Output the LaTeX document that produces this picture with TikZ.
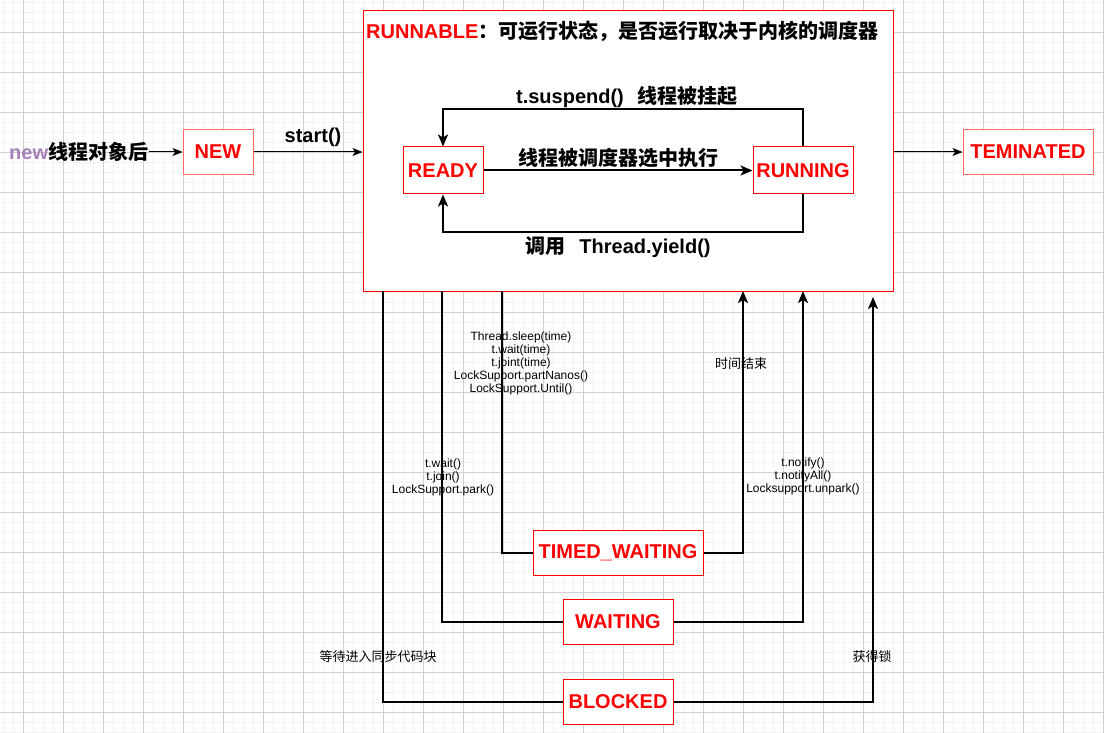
\documentclass[tikz,border=0pt]{standalone}
\usepackage{fontspec}
\setmainfont{Liberation Sans}
\newfontfamily\cjk{Noto Sans CJK SC}
\usetikzlibrary{arrows.meta}
\definecolor{newpurple}{HTML}{A680B8}
\definecolor{lightred}{HTML}{FF6666}
\newcommand{\zh}[1]{{\cjk #1}}
\tikzset{
  state/.style={draw=red, line width=1pt, fill=white, text=red, inner sep=0pt,
    font=\fontsize{20}{23}\selectfont\bfseries, minimum height=45pt},
  biglabel/.style={font=\fontsize{20}{23}\selectfont\bfseries, inner sep=1pt},
  smalllabel/.style={font=\fontsize{12}{13}\selectfont, align=center, inner sep=0pt},
  thin arrow/.style={line width=1pt, -{Stealth[length=10pt,width=8pt,inset=2.5pt]}},
  thick arrow/.style={line width=2pt, -{Stealth[length=12pt,width=10pt,inset=3pt]}},
  thick line/.style={line width=2pt},
  gridminor/.style={draw=black!5, line width=0.8pt},
  gridmajor/.style={draw=black!18, line width=0.8pt},
}
\begin{document}
\begin{tikzpicture}[x=1pt,y=-1pt]
\useasboundingbox[fill=white] (0,0) rectangle (1104,733);
% background grid
\foreach \x in {3,13,...,1103} \draw[gridminor] (\x,0) -- (\x,733);
\foreach \y in {2,12,...,732} \draw[gridminor] (0,\y) -- (1104,\y);
\foreach \x in {23,63,...,1103} \draw[gridmajor] (\x,0) -- (\x,733);
\foreach \y in {32,72,...,712} \draw[gridmajor] (0,\y) -- (1104,\y);

% RUNNABLE
\node[draw=red, line width=1pt, fill=white, inner sep=0pt,
  minimum width=530pt, minimum height=280pt] (runnable) at (628,151) {};
\node[biglabel, anchor=west] (title) at (365,31)
  {{\color{red}RUNNABLE}\zh{：可运行状态，是否运行取决于内核的调度器}};
\node[state, minimum width=80pt, minimum height=47pt] (ready) at (443,170.5) {READY};
\node[state, minimum width=100pt, minimum height=47pt] (running) at (803,170.5) {RUNNING};
\node[biglabel] (choose) at (618,158) {\zh{线程被调度器选中执行}};
\node[biglabel] (suspend) at (627,97) {t.suspend()\hspace{14pt}\zh{线程被挂起}};
\node[biglabel] (yield) at (618,247) {\zh{调用}\hspace{14pt}Thread.yield()};
\draw[thick arrow] (ready.east) -- (running.west);
\draw[thick arrow] (running.north) -- ++(0,-37) -| (ready.north);
\draw[thick arrow] (running.south) -- ++(0,37) -| (ready.south);

% NEW and TEMINATED
\node[biglabel, anchor=west] (newtxt) at (8,152) {{\color{newpurple}new}\zh{线程对象后}};
\node[state, draw=lightred, minimum width=70pt] (new) at (218,152) {NEW};
\node[biglabel] (start) at (313,137) {start()};
\node[state, draw=lightred, minimum width=130pt] (term) at (1028,152) {TEMINATED};
\draw[thin arrow] (newtxt.east) -- (new.west);
\draw[thin arrow] (new.east) -- (new.east -| runnable.west);
\draw[thin arrow] (runnable.east |- term) -- (term.west);

% waiting states
\node[state, minimum width=170pt] (timed) at (618,553) {TIMED\_WAITING};
\node[state, minimum width=110pt] (waiting) at (618,622) {WAITING};
\node[state, minimum width=110pt] (blocked) at (618,702) {BLOCKED};
\coordinate (twout) at (502,291);
\coordinate (twin) at (743,291);
\coordinate (wout) at (442,291);
\coordinate (win) at (803,291);
\coordinate (bout) at (383,291);
\coordinate (bin) at (873,297);
\draw[thick line] (twout) |- (timed.west);
\draw[thick arrow] (timed.east) -| (twin);
\draw[thick line] (wout) |- (waiting.west);
\draw[thick arrow] (waiting.east) -| (win);
\draw[thick line] (bout) |- (blocked.west);
\draw[thick arrow] (blocked.east) -| (bin);

% small labels
\node[smalllabel] (sleep) at (521,363) {Thread.sleep(time)\\t.wait(time)\\t.joint(time)\\LockSupport.partNanos()\\LockSupport.Until()};
\node[smalllabel] (timeout) at (741,364) {\fontsize{13}{13}\selectfont\zh{时间结束}};
\node[smalllabel] (wait) at (443,477) {t.wait()\\t.join()\\LockSupport.park()};
\node[smalllabel] (notify) at (803,476) {t.notify()\\t.notifyAll()\\Locksupport.unpark()};
\node[smalllabel] (sync) at (378,657) {\fontsize{13}{13}\selectfont\zh{等待进入同步代码块}};
\node[smalllabel] (lock) at (872,657) {\fontsize{13}{13}\selectfont\zh{获得锁}};
\end{tikzpicture}
\end{document}
